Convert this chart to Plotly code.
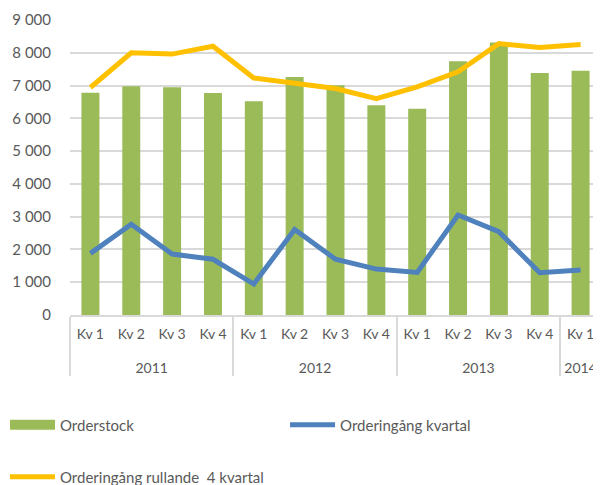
import plotly.graph_objects as go

years = ["2011"] * 4 + ["2012"] * 4 + ["2013"] * 4 + ["2014"]
quarters = ["Kv 1", "Kv 2", "Kv 3", "Kv 4"] * 3 + ["Kv 1"]

orderstock = [6780, 6980, 6950, 6770, 6520, 7260, 7010, 6400, 6290, 7740, 8310, 7380, 7450]
orderingang_kvartal = [1880, 2770, 1860, 1700, 945, 2610, 1700, 1400, 1300, 3050, 2540, 1290, 1370]
orderingang_rullande = [6940, 8000, 7960, 8200, 7230, 7060, 6910, 6600, 6960, 7420, 8280, 8160, 8250]

y_ticks = list(range(0, 9001, 1000))

# inner labels get an empty second line so the year row sits lower, as in the reference
quarter_labels = [q + "<br>\u00a0<sub>\u00a0</sub>" for q in quarters]
x = [years, quarter_labels]

GREEN = "#9BBB59"
BLUE = "#4F81BD"
YELLOW = "#FFC000"
GRID = "#D9D9D9"
TEXT = "#595959"

fig = go.Figure()
fig.add_trace(go.Bar(x=x, y=orderstock, name="Orderstock",
                     marker=dict(color=GREEN, line=dict(width=0)),
                     showlegend=False, legendgroup="os"))
# legend entry for the bars drawn as a wide swatch
fig.add_trace(go.Scatter(x=[None], y=[None], name="Orderstock", mode="lines",
                         line=dict(color=GREEN, width=10), legend="legend",
                         legendgroup="os"))
fig.add_trace(go.Scatter(x=x, y=orderingang_kvartal, name="Orderingång kvartal",
                         mode="lines", line=dict(color=BLUE, width=5),
                         legend="legend2"))
fig.add_trace(go.Scatter(x=x, y=orderingang_rullande, name="Orderingång rullande  4 kvartal",
                         mode="lines", line=dict(color=YELLOW, width=5),
                         legend="legend3"))

font_family = "Lato, 'Open Sans', sans-serif"
leg_common = dict(orientation="h", xanchor="left", yanchor="middle", itemwidth=45,
                  font=dict(size=15, color=TEXT), bgcolor="rgba(0,0,0,0)")
# page body adds an 8px offset, so the figure is 8px smaller than the window
fig.update_layout(
    width=593, height=477,
    margin=dict(l=62, r=0, t=12, b=170, autoexpand=False),
    paper_bgcolor="white", plot_bgcolor="white",
    font=dict(family=font_family, color=TEXT, size=13),
    separators=", ",
    bargap=0.56,
    showlegend=True,
    legend=dict(x=-0.1224, y=-0.3729, **leg_common),
    legend2=dict(x=0.405, y=-0.3729, **leg_common),
    legend3=dict(x=-0.1224, y=-0.549, **leg_common),
    yaxis=dict(range=[0, 9000], tickvals=y_ticks, tickformat=",d",
               showgrid=True, gridcolor=GRID, gridwidth=1.5,
               zeroline=False, showline=False,
               tickfont=dict(size=15, color=TEXT),
               ticks="", ticklabelstandoff=18),
    xaxis=dict(type="multicategory", showline=True, linecolor=GRID, linewidth=1.5,
               showdividers=True, dividercolor=GRID, dividerwidth=1.5,
               tickfont=dict(size=14, color=TEXT), ticks="",
               ticklabelstandoff=5),
)

fig.write_html("out.html")
